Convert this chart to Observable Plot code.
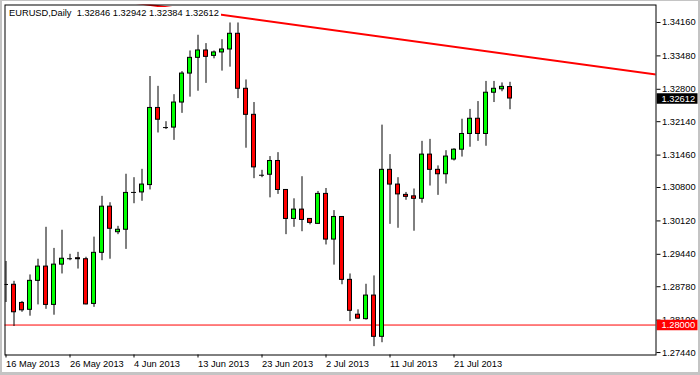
<!DOCTYPE html>
<html><head><meta charset="utf-8">
<script src="https://cdn.jsdelivr.net/npm/d3@7"></script>
<script src="https://cdn.jsdelivr.net/npm/@observablehq/plot@0.6"></script>
<style>
html,body{margin:0;padding:0;background:#fff;}
#wrap{position:relative;width:700px;height:375px;overflow:hidden;background:#fff;}
#hdr{position:absolute;z-index:2;left:6px;top:7px;width:212px;height:13px;background:#fff;font:9.3px 'Liberation Sans',Arial,sans-serif;white-space:pre;line-height:13px;padding-left:3px;color:#000;}
#win{position:absolute;z-index:3;left:0;top:0;right:0;bottom:0;border-style:solid;border-color:#c4c4c4;border-width:1px 2px 3px 2px;pointer-events:none;}
</style></head>
<body><div id="wrap"><div id="hdr"></div><div id="win"></div></div>
<script>
const symbol = "EURUSD,Daily";
const opens  = [1.28826,1.2882,1.2845,1.2831,1.2890,1.2919,1.2841,1.2923,1.2935,1.2936,1.2934,1.2843,1.2947,1.3041,1.2989,1.2994,1.3070,1.3070,1.3085,1.3242,1.3202,1.3202,1.3253,1.3312,1.3344,1.3359,1.3348,1.3355,1.3361,1.3393,1.3281,1.3228,1.3105,1.3106,1.3134,1.3075,1.3016,1.3035,1.3016,1.3006,1.3067,1.2974,1.3020,1.2892,1.2821,1.2812,1.2860,1.2776,1.3116,1.3086,1.3065,1.3062,1.3057,1.3147,1.3116,1.3107,1.3137,1.3157,1.3189,1.3220,1.3189,1.3273,1.3280,1.32846];
const highs  = [1.29294,1.2889,1.2848,1.2902,1.2934,1.2999,1.2956,1.2993,1.2944,1.2948,1.2938,1.2979,1.3062,1.3049,1.3001,1.3107,1.3100,1.3117,1.3306,1.3286,1.3214,1.3269,1.3316,1.3358,1.3390,1.3373,1.3358,1.3381,1.3415,1.3415,1.3299,1.3253,1.3115,1.3143,1.3151,1.3076,1.3057,1.3102,1.3016,1.3072,1.3078,1.3033,1.3021,1.2904,1.2831,1.2883,1.2900,1.3207,1.3147,1.3100,1.3070,1.3077,1.3174,1.3178,1.3124,1.3155,1.3159,1.3219,1.3239,1.3255,1.3296,1.3296,1.3293,1.32942];
const lows   = [1.28459,1.2797,1.2826,1.2818,1.2841,1.2832,1.2820,1.2904,1.2931,1.2914,1.2841,1.2836,1.2931,1.2934,1.2984,1.2954,1.3047,1.3052,1.3075,1.3191,1.3198,1.3176,1.3231,1.3264,1.3276,1.3292,1.3342,1.3317,1.3325,1.3261,1.3160,1.3098,1.3100,1.3059,1.3066,1.2984,1.2999,1.2990,1.3004,1.3005,1.2963,1.2922,1.2882,1.2807,1.2812,1.2810,1.2756,1.2764,1.3005,1.2997,1.3054,1.2991,1.3048,1.3083,1.3064,1.3087,1.3134,1.3142,1.3162,1.3174,1.3164,1.3253,1.3275,1.32384];
const closes = [1.28826,1.2826,1.2830,1.2890,1.2919,1.2841,1.2923,1.2935,1.2935,1.2934,1.2842,1.2947,1.3041,1.2996,1.2994,1.3069,1.3070,1.3086,1.3242,1.3218,1.3202,1.3253,1.3312,1.3344,1.3359,1.3346,1.3355,1.3361,1.3393,1.3281,1.3228,1.3121,1.3105,1.3134,1.3075,1.3016,1.3035,1.3014,1.3008,1.3067,1.2974,1.3020,1.2892,1.2829,1.2813,1.2860,1.2776,1.3116,1.3086,1.3066,1.3061,1.3057,1.3147,1.3116,1.3107,1.3143,1.3157,1.3189,1.3220,1.3189,1.3273,1.3281,1.3285,1.32612];
const xTickIndex  = [0, 8, 16, 24, 32, 40, 48, 56];
const xTickLabels = ["16 May 2013","26 May 2013","4 Jun 2013","13 Jun 2013","23 Jun 2013","2 Jul 2013","11 Jul 2013","21 Jul 2013"];
const yTicks = [1.34160,1.33480,1.32800,1.32140,1.31460,1.30800,1.30120,1.29440,1.28780,1.28100,1.27440];
const levelPrice = [1.28000];
const trendIndex = [16, 82];
const trendPrice = [1.34562, 1.33083];

const fmt = d3.format(".5f");
const candles = opens.map((o, i) => ({i, open: o, high: highs[i], low: lows[i], close: closes[i]}));
const bodies = candles.filter(d => d.open !== d.close);
const dojis = candles.filter(d => d.open === d.close);
const trend = trendIndex.map((i, k) => ({i, p: trendPrice[k]}));
const last = candles[candles.length - 1];
const xMin = -0.125, xMax = 81.25;

document.getElementById("hdr").textContent =
  `${symbol}  ${fmt(last.open)} ${fmt(last.high)} ${fmt(last.low)} ${fmt(last.close)}`;

const chart = Plot.plot({
  width: 700, height: 375,
  marginLeft: 4.5, marginRight: 44.5, marginTop: 4.5, marginBottom: 20.5,
  x: {type: "linear", domain: [xMin, xMax], axis: null},
  y: {domain: [1.27390, 1.34516], axis: null},
  style: {background: "transparent", fontFamily: "'Liberation Sans', Arial, sans-serif", fontSize: "9.3px", color: "black", overflow: "visible"},
  marks: [
    Plot.ruleY(levelPrice, {stroke: "#ff0000", strokeWidth: 1}),
    Plot.line(trend, {x: "i", y: "p", stroke: "#ff0000", strokeWidth: 2, clip: true}),
    Plot.ruleX(candles, {x: "i", y1: "low", y2: "high", stroke: "black", strokeWidth: 1, clip: true}),
    Plot.rect(bodies, {x1: d => d.i - 0.25, x2: d => d.i + 0.25, y1: "open", y2: "close",
      fill: d => d.close > d.open ? "#00ff00" : "#ff0000", stroke: "black", strokeWidth: 1, clip: true}),
    Plot.ruleY(dojis, {y: "open", x1: d => d.i - 0.3125, x2: d => d.i + 0.3125, stroke: "black", strokeWidth: 1, clip: true}),
    Plot.axisY(yTicks, {anchor: "right", tickSize: 4, tickPadding: 2, tickFormat: fmt, label: null, stroke: "black"}),
    Plot.axisX(xTickIndex, {anchor: "bottom", tickSize: 3, tickPadding: 2, textAnchor: "start",
      tickFormat: d => xTickLabels[xTickIndex.indexOf(d)], label: null, stroke: "black"}),
    Plot.ruleY([last.close], {x1: () => xMax + 0.15, x2: () => xMax + 5.25, stroke: "black", strokeWidth: 10.5}),
    Plot.text([last.close], {x: () => xMax, y: d => d, text: d => fmt(d), dx: 5.5, textAnchor: "start", fill: "white"}),
    Plot.ruleY(levelPrice, {x1: () => xMax + 0.15, x2: () => xMax + 5.25, stroke: "#ff0000", strokeWidth: 10.5}),
    Plot.text(levelPrice, {x: () => xMax, y: d => d, text: d => fmt(d), dx: 5.5, textAnchor: "start", fill: "white"}),
    Plot.frame({stroke: "black", strokeWidth: 1})
  ]
});
document.getElementById("wrap").insertBefore(chart, document.getElementById("hdr"));
</script>
</body></html>
